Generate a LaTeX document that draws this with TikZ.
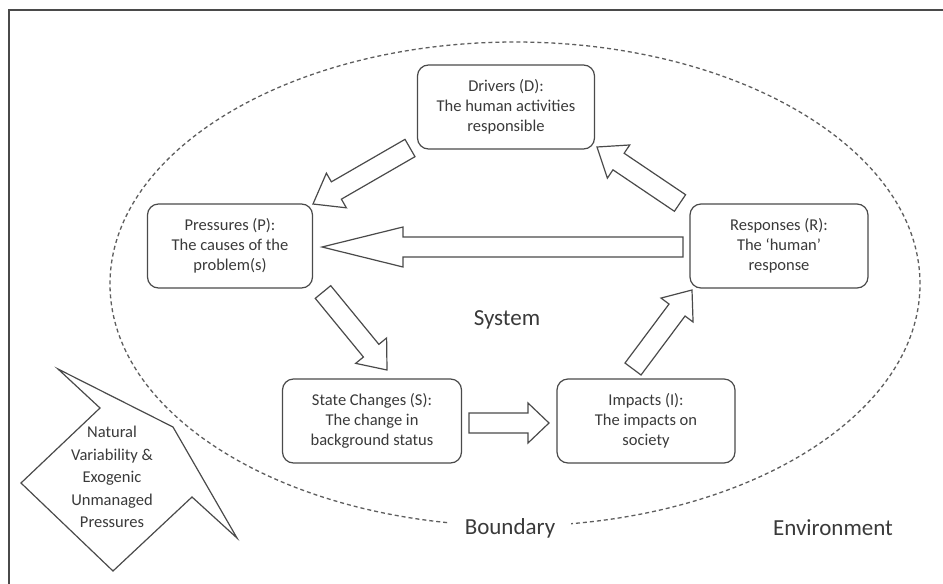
\documentclass[tikz,border=0pt]{standalone}
\usepackage{fontspec}
\setmainfont{Carlito}
\usetikzlibrary{calc}
\definecolor{linec}{HTML}{4A4A4A}
\definecolor{txtc}{HTML}{3A3A3A}
\definecolor{dashc}{HTML}{5E5E5E}
% block arrow: #1 tail coordinate, #2 tip coordinate, #3 head length
\newcommand\blockarrow[3]{%
  \coordinate (ba-h) at ($(#2)!#3!(#1)$);
  \draw[barrow] ($(#1)!10pt!90:(#2)$) -- ($(ba-h)!10pt!90:(#2)$) -- ($(ba-h)!20pt!90:(#2)$)
    -- (#2) -- ($(ba-h)!20pt!-90:(#2)$) -- ($(ba-h)!10pt!-90:(#2)$) -- ($(#1)!10pt!-90:(#2)$) -- cycle;}
\begin{document}
\begin{tikzpicture}[x=1pt,y=-1pt,
  frame/.style={draw=linec, line width=1.4pt},
  box/.style={draw=linec, line width=1.2pt, rounded corners=11pt, minimum height=84pt,
    align=center, text=txtc, font=\fontsize{16.5}{20}\selectfont, inner sep=2pt},
  barrow/.style={draw=linec, line width=1.2pt, fill=white, line join=miter},
  bigtxt/.style={text=txtc, font=\fontsize{23}{27}\selectfont, inner sep=1pt},
  boundary/.style={draw=dashc, line width=1.3pt, dash pattern=on 4pt off 3pt},
  natshape/.style={draw=linec, line width=1.2pt, fill=white, line join=miter},
  nattxt/.style={text=txtc, align=center, font=\fontsize{16.5}{22.5}\selectfont, inner sep=1pt}]
\useasboundingbox (0,0) rectangle (943,584);
\fill[white] (0,0) rectangle (943,584);
\draw[frame] (943,10) -- (9,10) -- (9,584);
% system boundary
\draw[boundary] (515,284) ellipse [x radius=405pt, y radius=242pt];
\node[bigtxt, fill=white, inner xsep=16pt, inner ysep=3pt] (bnd) at (510,528) {Boundary};
\node[bigtxt] (sys) at (507,320) {System};
\node[bigtxt] (env) at (833,528) {Environment};
% boxes
\node[box, minimum width=177pt] (D) at (506,107) {Drivers (D):\\The human activities\\responsible};
\node[box, minimum width=165pt] (P) at (230,246) {Pressures (P):\\The causes of the\\problem(s)};
\node[box, minimum width=178pt] (R) at (779,246) {Responses (R):\\The ‘human’\\response};
\node[box, minimum width=179pt] (S) at (372,421) {State Changes (S):\\The change in\\background status};
\node[box, minimum width=178pt] (I) at (646,421) {Impacts (I):\\The impacts on\\society};
% arrow end points
\coordinate (dp-t) at (410,148);  \coordinate (dp-h) at (313,204);
\coordinate (rd-t) at (680,203);  \coordinate (rd-h) at (597,147);
\coordinate (rp-t) at (683,247);  \coordinate (rp-h) at (322,247);
\coordinate (ps-t) at (323,292);  \coordinate (ps-h) at (387,370);
\coordinate (si-t) at (469,423);  \coordinate (si-h) at (549,423);
\coordinate (ir-t) at (633,369);  \coordinate (ir-h) at (692,290);
\blockarrow{dp-t}{dp-h}{27pt}
\blockarrow{rd-t}{rd-h}{26pt}
\blockarrow{rp-t}{rp-h}{81pt}
\blockarrow{ps-t}{ps-h}{25pt}
\blockarrow{si-t}{si-h}{21pt}
\blockarrow{ir-t}{ir-h}{25pt}
% exogenic pressures shape
\draw[natshape] (58,369) -- (100,408) -- (21,483) -- (113,571) -- (192,497) -- (237,538) -- (173,427) -- cycle;
\node[nattxt] (nat) at (112,477) {Natural\\Variability \&\\Exogenic\\Unmanaged\\Pressures};
\end{tikzpicture}
\end{document}
